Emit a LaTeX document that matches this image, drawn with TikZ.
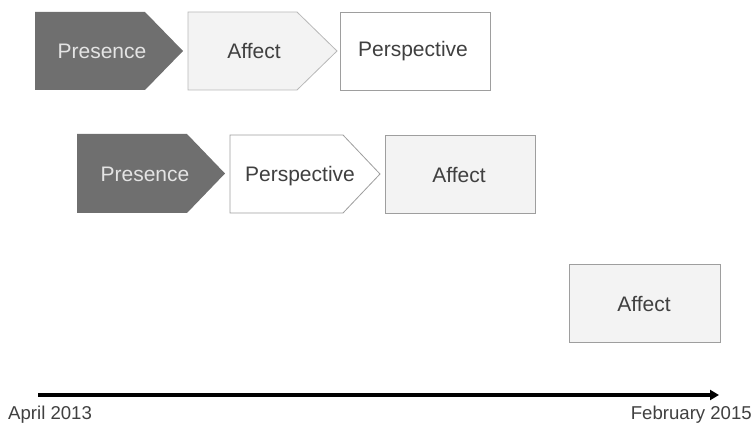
\documentclass[tikz,border=0pt]{standalone}
\usepackage{fontspec}
\setmainfont{Liberation Sans}
\usetikzlibrary{arrows.meta}
\definecolor{darkfill}{HTML}{6F6F6F}
\definecolor{lightfill}{HTML}{F3F3F3}
\definecolor{edgegray}{HTML}{9E9E9E}
\definecolor{softedge}{HTML}{B8B8B8}
\definecolor{inktext}{HTML}{404040}
\definecolor{paletext}{HTML}{E4E4E4}
\tikzset{
  darkstep/.style={fill=darkfill, draw=none},
  lightstep/.style={fill=lightfill, draw=softedge, line width=0.8pt},
  whitestep/.style={fill=white, draw=edgegray, line width=0.8pt},
  lightbox/.style={fill=lightfill, draw=edgegray, line width=0.8pt},
  whitebox/.style={fill=white, draw=edgegray, line width=0.8pt},
  label/.style={font=\fontsize{21}{24}\selectfont, text=inktext, inner sep=0pt},
  palelabel/.style={label, text=paletext},
  datelabel/.style={font=\fontsize{18.6}{21}\selectfont, text=inktext, inner sep=0pt}
}
\begin{document}
\begin{tikzpicture}[x=1pt,y=-1pt]
\useasboundingbox (0,0) rectangle (756,430);

% first sequence: Presence -> Affect -> Perspective
\draw[darkstep] (35,12) -- (145,12) -- (183,51) -- (145,90) -- (35,90) -- cycle;
\draw[lightstep] (188,12) -- (297,12) -- (337,51) -- (297,90) -- (188,90) -- cycle;
\draw[whitebox] (340,12) rectangle (490,90);
\node[palelabel] (p1) at (102,51) {Presence};
\node[label] (a1) at (254,51) {Affect};
\node[label] (s1) at (413,51) {Perspective};

% second sequence: Presence -> Perspective -> Affect
\draw[darkstep] (77,134) -- (187,134) -- (225,173.5) -- (187,213) -- (77,213) -- cycle;
\draw[whitestep] (230,135) -- (343,135) -- (380,174) -- (343,213) -- (230,213) -- cycle;
\draw[lightbox] (385,135) rectangle (535,213);
\node[palelabel] (p2) at (145,174) {Presence};
\node[label] (s2) at (300,176) {Perspective};
\node[label] (a2) at (459,175) {Affect};

% third sequence: Affect only
\draw[lightbox] (569,264) rectangle (720,342);
\node[label] (a3) at (644,304) {Affect};

% time axis
\coordinate (t0) at (38,395);
\coordinate (t1) at (719,395);
\draw[line width=4pt, -{Triangle[length=9pt,width=10pt]}] (t0) -- (t1);
\node[datelabel, anchor=west] (d0) at (8,415) {April 2013};
\node[datelabel, anchor=east] (d1) at (752,415) {February 2015};
\end{tikzpicture}
\end{document}
